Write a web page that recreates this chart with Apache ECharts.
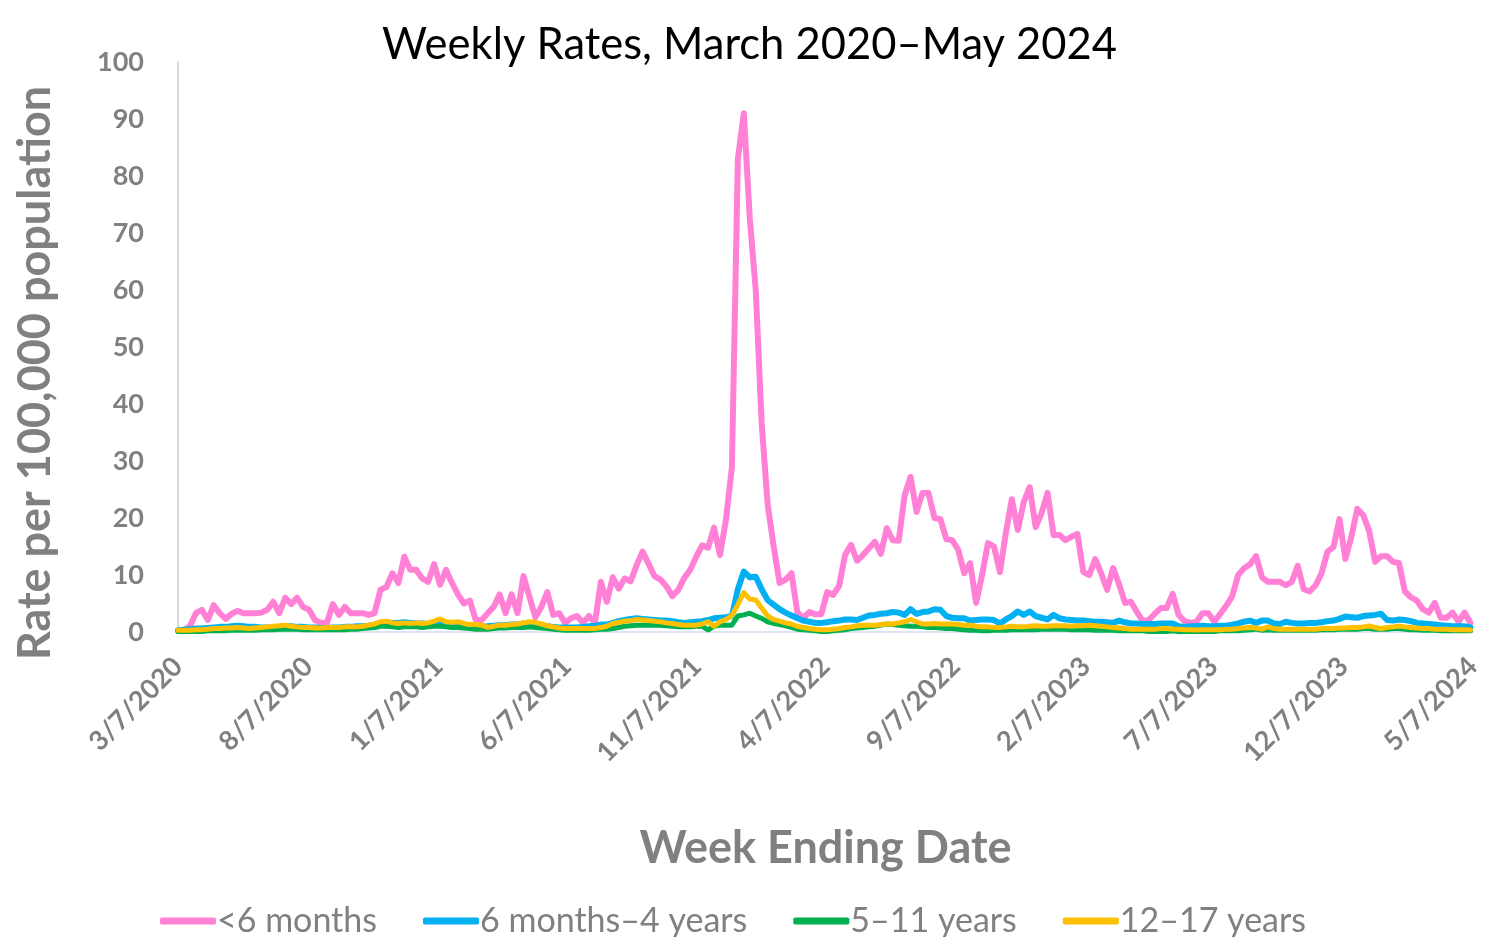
<!DOCTYPE html>
<html>
<head>
<meta charset="utf-8">
<title>Weekly Rates</title>
<script src="https://cdn.jsdelivr.net/npm/echarts@6.0.0/dist/echarts.min.js"></script>
<style>
  html, body { margin: 0; padding: 0; background: #fff; }
  #chart { width: 1499px; height: 937px; }
</style>
</head>
<body>
<div id="chart"></div>
<script>
// first week ending date, weekly points follow
var firstWeek = [2020, 3, 7];
var axisStart = [2020, 3, 7];
var axisEnd = [2024, 5, 7];

// x tick labels (every 5 months)
var tickLabels = ['3/7/2020', '8/7/2020', '1/7/2021', '6/7/2021', '11/7/2021', '4/7/2022',
  '9/7/2022', '2/7/2023', '7/7/2023', '12/7/2023', '5/7/2024'];
var yTicks = [0, 10, 20, 30, 40, 50, 60, 70, 80, 90, 100];

var seriesNames = ['<6 months', '6 months–4 years', '5–11 years', '12–17 years'];
var seriesColors = ['#ff80d5', '#00b0f0', '#00b050', '#ffc000'];

var under6mo = [
  0.2,0.3,1.0,3.3,3.9,2.1,4.7,3.3,2.3,3.2,
  3.7,3.3,3.3,3.3,3.4,3.9,5.3,3.3,6.0,4.9,
  6.0,4.4,3.9,2.1,1.6,1.6,4.9,3.0,4.4,3.3,
  3.3,3.3,3.0,3.3,7.4,7.9,10.3,8.6,13.2,10.9,
  10.9,9.4,8.8,11.9,8.3,10.9,8.6,6.6,5.0,5.5,
  2.1,2.1,3.3,4.4,6.6,3.3,6.6,3.3,9.8,6.2,
  2.6,4.4,7.0,3.0,3.3,1.6,2.4,2.8,1.6,2.8,
  1.6,8.8,5.3,9.6,7.6,9.4,8.9,11.7,14.1,12.0,
  9.8,9.2,8.0,6.3,7.4,9.5,10.9,13.2,15.2,14.8,
  18.3,13.5,19.7,28.9,83.0,91.0,72.6,60.0,36.6,22.4,
  15.1,8.6,9.2,10.3,3.4,2.5,3.5,3.1,3.1,7.0,
  6.5,8.1,13.5,15.3,12.5,13.5,14.7,15.8,13.7,18.2,
  16.1,16.0,24.0,27.2,21.1,24.4,24.4,20.0,19.8,16.3,
  16.1,14.4,10.3,12.1,5.1,10.0,15.6,15.0,10.5,17.4,
  23.3,17.9,22.8,25.4,18.4,20.9,24.4,17.0,17.0,16.1,
  16.7,17.2,10.5,10.0,12.8,10.3,7.4,11.2,8.4,5.1,
  5.3,3.5,1.9,2.1,3.2,4.2,4.2,6.7,3.0,1.9,
  1.6,1.8,3.3,3.3,1.8,3.2,4.6,6.3,10.0,11.2,
  11.9,13.3,9.6,8.8,8.8,8.8,8.2,8.8,11.6,7.5,
  7.1,8.2,10.3,14.1,14.9,19.8,12.8,16.7,21.6,20.5,
  17.7,12.3,13.3,13.3,12.3,12.1,7.1,6.1,5.5,4.0,
  3.4,5.1,2.5,2.5,3.4,1.8,3.4,1.6
];

var mo6to4y = [
  0.3,0.4,0.5,0.6,0.6,0.7,0.8,0.9,0.9,1.0,
  1.1,1.0,0.9,0.9,0.8,0.8,0.8,0.9,1.0,1.0,
  0.9,0.9,0.8,0.8,0.7,0.7,0.8,0.8,0.9,0.9,
  1.0,1.0,1.1,1.3,1.6,1.7,1.6,1.6,1.7,1.6,
  1.5,1.5,1.4,1.6,1.4,1.4,1.3,1.2,1.2,1.1,
  1.0,0.9,1.0,1.1,1.2,1.2,1.3,1.3,1.5,1.4,
  1.2,1.1,1.0,0.9,0.8,0.8,0.8,0.8,0.9,1.0,
  1.1,1.3,1.3,1.6,1.9,2.1,2.3,2.4,2.3,2.2,
  2.1,2.0,2.0,1.9,1.7,1.6,1.7,1.8,1.9,2.1,
  2.4,2.5,2.6,2.8,7.5,10.6,9.6,9.7,7.5,5.6,
  4.8,4.0,3.4,2.9,2.4,2.0,1.8,1.6,1.6,1.7,
  1.9,2.0,2.2,2.2,2.1,2.5,2.9,3.0,3.2,3.3,
  3.5,3.4,3.0,4.0,3.2,3.5,3.6,4.0,3.9,2.8,
  2.5,2.4,2.4,2.0,2.1,2.2,2.2,2.1,1.5,2.2,
  2.8,3.6,3.0,3.6,2.8,2.5,2.2,3.0,2.4,2.2,
  2.1,2.0,2.0,1.9,1.8,1.8,1.7,1.6,2.0,1.7,
  1.5,1.5,1.4,1.4,1.4,1.5,1.5,1.5,1.0,0.9,
  1.0,1.0,1.1,1.0,1.0,1.1,1.1,1.3,1.5,1.8,
  2.0,1.6,2.0,2.0,1.5,1.4,1.8,1.6,1.5,1.5,
  1.6,1.6,1.7,1.9,2.0,2.3,2.7,2.6,2.5,2.8,
  2.9,3.0,3.2,2.1,2.0,2.2,2.1,1.9,1.6,1.5,
  1.4,1.3,1.2,1.1,1.0,1.0,1.0,0.8
];

var yr5to11 = [
  0.1,0.1,0.1,0.1,0.1,0.2,0.2,0.2,0.2,0.3,
  0.3,0.3,0.3,0.3,0.4,0.4,0.4,0.5,0.5,0.5,
  0.5,0.4,0.4,0.4,0.4,0.4,0.4,0.4,0.4,0.5,
  0.5,0.6,0.7,0.8,1.0,1.0,0.9,0.8,0.9,0.9,
  0.9,0.8,0.9,1.0,1.0,0.9,0.8,0.8,0.7,0.6,
  0.5,0.5,0.5,0.6,0.7,0.7,0.8,0.8,0.8,0.9,
  0.8,0.7,0.6,0.5,0.4,0.3,0.3,0.3,0.3,0.3,
  0.4,0.5,0.5,0.6,0.8,1.0,1.1,1.2,1.2,1.2,
  1.2,1.2,1.1,1.0,0.9,0.9,0.9,1.0,1.0,0.4,
  1.0,1.2,1.2,1.2,2.8,3.0,3.3,2.8,2.4,1.8,
  1.5,1.3,1.1,0.8,0.5,0.4,0.3,0.2,0.1,0.1,
  0.2,0.3,0.4,0.6,0.7,0.8,0.9,1.0,1.2,1.4,
  1.3,1.2,1.1,1.0,1.0,0.9,0.8,0.8,0.7,0.6,
  0.6,0.5,0.4,0.3,0.3,0.2,0.2,0.3,0.3,0.3,
  0.4,0.4,0.4,0.4,0.4,0.5,0.5,0.5,0.5,0.5,
  0.4,0.4,0.4,0.4,0.3,0.3,0.3,0.3,0.2,0.2,
  0.2,0.2,0.2,0.1,0.1,0.1,0.1,0.2,0.1,0.1,
  0.1,0.1,0.1,0.1,0.1,0.2,0.2,0.2,0.2,0.3,
  0.4,0.5,0.3,0.4,0.3,0.3,0.3,0.3,0.3,0.3,
  0.3,0.3,0.4,0.4,0.4,0.5,0.5,0.5,0.5,0.6,
  0.6,0.5,0.5,0.5,0.6,0.6,0.5,0.4,0.4,0.3,
  0.3,0.3,0.2,0.2,0.2,0.2,0.2,0.2
];

var yr12to17 = [
  0.3,0.3,0.3,0.4,0.4,0.5,0.6,0.6,0.7,0.7,
  0.8,0.7,0.6,0.7,0.8,0.9,1.0,1.1,1.2,1.0,
  0.9,0.8,0.8,0.7,0.7,0.8,0.8,0.8,0.9,0.9,
  0.9,1.0,1.2,1.4,1.8,1.9,1.6,1.5,1.6,1.5,
  1.6,1.5,1.6,1.9,2.3,1.8,1.7,1.8,1.5,1.3,
  1.3,1.2,0.8,1.0,1.2,1.2,1.3,1.4,1.6,1.8,
  1.7,1.4,1.1,0.9,0.7,0.6,0.6,0.6,0.6,0.6,
  0.6,0.8,1.0,1.5,1.7,1.9,2.0,2.2,2.1,2.0,
  1.9,1.8,1.6,1.5,1.3,1.2,1.2,1.2,1.4,1.8,
  1.0,1.8,2.2,2.9,4.8,6.9,5.8,5.6,4.2,2.8,
  2.2,1.9,1.6,1.4,1.0,0.8,0.6,0.5,0.4,0.4,
  0.5,0.6,0.8,0.9,1.1,1.2,1.2,1.2,1.3,1.4,
  1.4,1.6,1.8,2.2,1.8,1.4,1.4,1.5,1.4,1.4,
  1.4,1.3,1.2,1.2,1.0,0.9,0.9,0.8,0.8,0.9,
  1.0,0.9,0.9,1.0,1.1,1.0,1.0,1.1,1.1,1.1,
  1.0,1.1,1.1,1.2,1.1,1.0,0.9,0.8,0.7,0.6,
  0.5,0.5,0.5,0.5,0.5,0.6,0.6,0.5,0.5,0.4,
  0.4,0.35,0.4,0.4,0.4,0.4,0.5,0.5,0.6,0.7,
  0.8,0.7,0.5,0.9,0.6,0.5,0.5,0.5,0.5,0.5,
  0.5,0.5,0.6,0.6,0.6,0.7,0.7,0.8,0.8,0.9,
  1.05,0.8,0.6,0.8,0.9,1.05,0.9,0.8,0.7,0.6,
  0.6,0.5,0.5,0.5,0.4,0.4,0.4,0.35
];

var DAY = 86400000;
var t0 = Date.UTC(axisStart[0], axisStart[1] - 1, axisStart[2]);

// days since the axis start
function dayOf(y, m, d) { return Math.round((Date.UTC(y, m - 1, d) - t0) / DAY); }
function labelDay(s) {
  var p = s.split('/');
  return dayOf(+p[2], +p[0], +p[1]);
}
var tickDays = tickLabels.map(labelDay);

var weekDays = under6mo.map(function (v, i) {
  return dayOf(firstWeek[0], firstWeek[1], firstWeek[2]) + 7 * i;
});

function pairUp(values) {
  return values.map(function (v, i) { return [weekDays[i], v]; });
}

var grey = '#808080';
var font = 'Lato, "Open Sans", sans-serif';

var chart = echarts.init(document.getElementById('chart'));
var allData = [under6mo, mo6to4y, yr5to11, yr12to17];
var widths = [6, 6, 5, 5];

chart.setOption({
  animation: false,
  backgroundColor: '#fff',
  color: seriesColors,
  title: {
    text: 'Weekly Rates, March 2020–May 2024',
    left: 'center',
    top: 18,
    textStyle: {
      color: '#000',
      fontFamily: font,
      fontWeight: 'normal',
      fontSize: 43.5
    }
  },
  grid: {
    left: 178,
    right: 26,
    top: 62,
    bottom: 305
  },
  legend: {
    data: seriesNames,
    left: 155,
    top: 899,
    icon: 'roundRect',
    itemWidth: 56,
    itemHeight: 7,
    itemGap: 46,
    textStyle: {
      color: grey,
      fontFamily: font,
      fontSize: 34,
      padding: [0, 0, 0, -4]
    }
  },
  xAxis: {
    type: 'value',
    min: 0,
    max: dayOf(axisEnd[0], axisEnd[1], axisEnd[2]),
    name: 'Week Ending Date',
    nameLocation: 'middle',
    nameGap: 194,
    nameTextStyle: {
      color: grey,
      fontFamily: font,
      fontWeight: 'bold',
      fontSize: 45
    },
    axisLine: {
      show: true,
      onZero: false,
      lineStyle: { color: '#d0dcec', width: 1.5 }
    },
    axisTick: { show: false },
    splitLine: { show: false },
    axisLabel: {
      customValues: tickDays,
      rotate: 45,
      margin: 30,
      color: grey,
      fontFamily: font,
      fontWeight: 'bold',
      fontSize: 27,
      formatter: function (v) {
        var i = tickDays.indexOf(Math.round(v));
        return i >= 0 ? tickLabels[i] : '';
      }
    }
  },
  yAxis: {
    type: 'value',
    min: yTicks[0],
    max: yTicks[yTicks.length - 1],
    interval: 10,
    axisLine: {
      show: true,
      lineStyle: { color: '#d9d9d9', width: 2 }
    },
    axisTick: { show: false },
    splitLine: { show: false },
    axisLabel: {
      margin: 34,
      color: grey,
      fontFamily: font,
      fontWeight: 'bold',
      fontSize: 27
    }
  },
  graphic: [{
    type: 'text',
    x: 35,
    y: 373,
    rotation: Math.PI / 2,
    style: {
      text: 'Rate per 100,000 population',
      fill: grey,
      font: 'bold 45px ' + font,
      textAlign: 'center',
      textVerticalAlign: 'middle'
    }
  }],
  series: allData.map(function (vals, k) {
    return {
      name: seriesNames[k],
      type: 'line',
      data: pairUp(vals),
      symbol: 'none',
      showSymbol: false,
      z: 2 + k,
      lineStyle: { width: widths[k], color: seriesColors[k], join: 'round', cap: 'round' },
      itemStyle: { color: seriesColors[k] }
    };
  })
});
</script>
</body>
</html>
